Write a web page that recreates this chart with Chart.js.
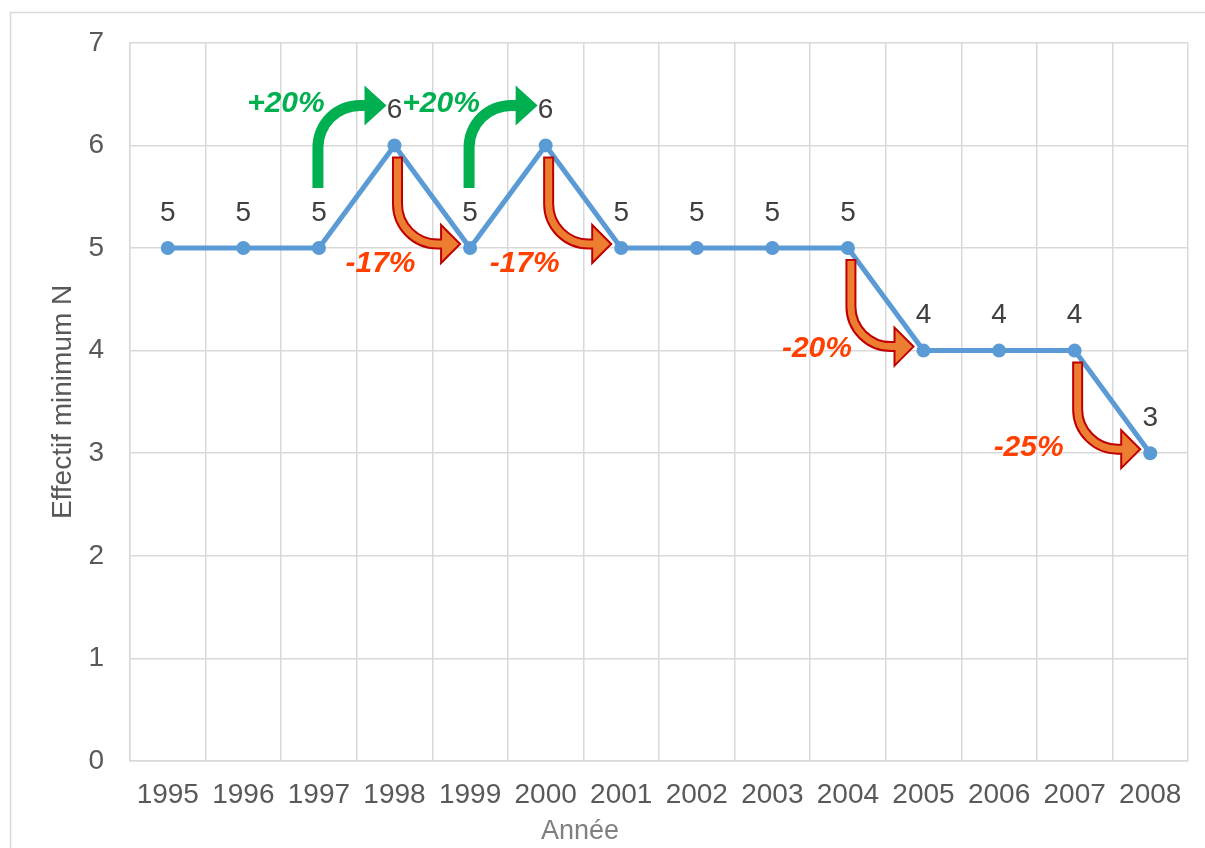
<!DOCTYPE html>
<html>
<head>
<meta charset="utf-8">
<script src="https://cdn.jsdelivr.net/npm/chart.js@4/dist/chart.umd.min.js"></script>
<style>
  html, body { margin: 0; padding: 0; background: #fff; }
  #wrap { width: 1205px; height: 848px; position: relative; }
</style>
</head>
<body>
<div id="wrap"><canvas id="chart" width="1205" height="848"></canvas></div>
<script>
// data
const years = ['1995', '1996', '1997', '1998', '1999', '2000', '2001', '2002', '2003', '2004', '2005', '2006', '2007', '2008']
const effectif = [5, 5, 5, 6, 5, 6, 5, 5, 5, 5, 4, 4, 4, 3]
const yTicks = [0, 1, 2, 3, 4, 5, 6, 7]
const xTitle = "Année"

// the curved arrows between two years, and their texts
const arrowFrom = [2, 3, 4, 5, 9, 12]
const arrowLabels = ['+20%', '-17%', '+20%', '-17%', '-20%', '-25%']
// where each text sits, relative to the start point (px)
const labelOffsets = [[-33, -144], [-14, 118], [-29, -144], [-21, 118], [-31, 101], [-46, 97]]

const FONT = "'Liberation Sans', Arial, sans-serif"
const gridColor = "#d9d9d9"

// block arrow going up or down, then right
function blockArrow(ctx, sx, sy, tipX, ty, dir, o) {
  const w = o.w, r = o.r, hh = o.hh
  const hx = tipX - o.head
  const cx = sx + r
  const cy = ty - dir * r
  const down = dir > 0
  ctx.beginPath()
  ctx.moveTo(sx - w, sy)
  ctx.lineTo(sx - w, cy)
  ctx.arc(cx, cy, r + w, Math.PI, down ? Math.PI / 2 : Math.PI * 1.5, down)
  ctx.lineTo(hx, ty + dir * w)
  ctx.lineTo(hx, ty + dir * hh)
  ctx.lineTo(tipX, ty)
  ctx.lineTo(hx, ty - dir * hh)
  ctx.lineTo(hx, ty - dir * w)
  ctx.lineTo(cx, ty - dir * w)
  ctx.arc(cx, cy, r - w, down ? Math.PI / 2 : Math.PI * 1.5, Math.PI, !down)
  ctx.lineTo(sx + w, sy)
  ctx.closePath()
  ctx.fillStyle = o.fill
  ctx.fill()
  if (o.stroke) {
    ctx.lineWidth = 2
    ctx.strokeStyle = o.stroke
    ctx.lineJoin = "miter"
    ctx.stroke()
  }
}

const framePlugin = {
  id: "frame",
  beforeDraw(chart) {
    const ctx = chart.ctx
    ctx.save()
    ctx.fillStyle = "#fff"
    ctx.fillRect(0, 0, chart.width, chart.height)
    ctx.strokeStyle = gridColor
    ctx.lineWidth = 1.5
    ctx.strokeRect(10.5, 12.5, 1300, 900)
    // x axis title, Excel puts it left of the plot center
    ctx.font = "27px " + FONT
    ctx.fillStyle = "#7f7f7f"
    ctx.textAlign = "center"
    ctx.textBaseline = "middle"
    ctx.fillText(xTitle, 580, 832)
    ctx.restore()
  }
}

const labelsPlugin = {
  id: "pointLabels",
  afterDatasetsDraw(chart) {
    const ctx = chart.ctx
    const meta = chart.getDatasetMeta(0)
    const x = chart.scales.x
    const y = chart.scales.y
    ctx.save()

    // arrows
    for (let i = 0; i < arrowFrom.length; i++) {
      const a = arrowFrom[i]
      const ax = x.getPixelForValue(a)
      const ay = y.getPixelForValue(effectif[a])
      const bx = x.getPixelForValue(a + 1)
      const by = y.getPixelForValue(effectif[a + 1])
      if (effectif[a + 1] > effectif[a]) {
        blockArrow(ctx, ax - 1, ay - 60, bx - 8, by - 40, -1,
          { w: 5.5, r: 42, hh: 20, head: 22, fill: "#00b050" })
      } else {
        blockArrow(ctx, ax + 3, ay + 12, bx - 10, by - 4, 1,
          { w: 4.5, r: 40, hh: 19, head: 19, fill: "#ed7d31", stroke: "#c00000" })
      }
    }

    // value labels
    ctx.font = "28px " + FONT
    ctx.fillStyle = "#404040"
    ctx.textAlign = "center"
    ctx.textBaseline = "middle"
    meta.data.forEach((pt, i) => {
      ctx.fillText(String(effectif[i]), pt.x, pt.y - 35)
    })

    // percent texts
    ctx.font = "italic bold 30px " + FONT
    for (let i = 0; i < arrowFrom.length; i++) {
      const a = arrowFrom[i]
      const ax = x.getPixelForValue(a)
      const ay = y.getPixelForValue(effectif[a])
      ctx.fillStyle = arrowLabels[i][0] == "+" ? "#00b050" : "#ff4000"
      ctx.fillText(arrowLabels[i], ax + labelOffsets[i][0], ay + labelOffsets[i][1])
    }
    ctx.restore()
  }
}

const config = {
  type: "line",
  data: {
    labels: years,
    datasets: [{
      label: "Effectif minimum N",
      data: effectif,
      borderColor: "#5b9bd5",
      backgroundColor: "#5b9bd5",
      borderWidth: 5,
      pointRadius: 7,
      pointHoverRadius: 7,
      pointBorderWidth: 0,
      tension: 0
    }]
  },
  options: {
    responsive: false,
    animation: false,
    layout: { padding: { left: 10, top: 42, right: 17, bottom: 0 } },
    plugins: {
      legend: { display: false },
      tooltip: { enabled: false },
      title: { display: false }
    },
    scales: {
      x: {
        offset: true,
        grid: { offset: true, color: gridColor, lineWidth: 1.5, drawTicks: false },
        border: { color: gridColor, width: 1.5 },
        ticks: { color: "#595959", font: { family: FONT, size: 28 }, padding: 17, maxRotation: 0, autoSkip: false },
        title: { display: false },
        afterFit(scale) { scale.height = 87 }
      },
      y: {
        min: 0,
        max: 7,
        afterBuildTicks(scale) { scale.ticks = yTicks.map(v => ({ value: v })) },
        grid: { color: gridColor, lineWidth: 1.5, drawTicks: false },
        border: { color: gridColor, width: 1.5 },
        ticks: { color: "#595959", font: { family: FONT, size: 28 }, padding: 26 },
        title: { display: true, text: "Effectif minimum N", color: "#595959", font: { family: FONT, size: 28 }, padding: { top: 36, bottom: 0 } },
        afterFit(scale) { scale.width = 120 }
      }
    }
  },
  plugins: [framePlugin, labelsPlugin]
}

new Chart(document.getElementById("chart").getContext("2d"), config)
</script>
</body>
</html>
